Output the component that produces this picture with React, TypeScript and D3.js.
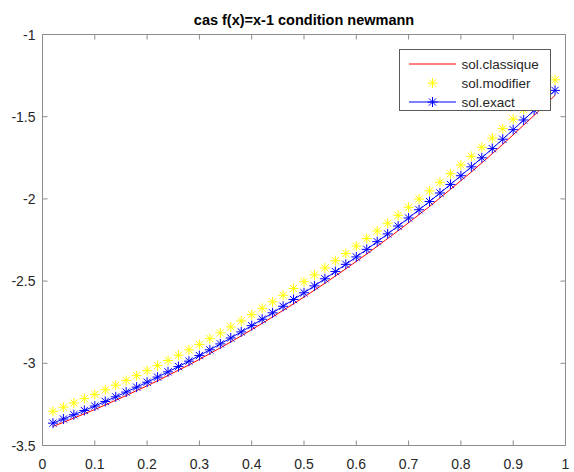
import React from "react";
import * as d3 from "d3";

const WIDTH = 574;
const HEIGHT = 472;
const MARGIN = { left: 42.5, right: 8.5, top: 34.5, bottom: 26.5 };

const xValues = [
  0.02, 0.04, 0.06, 0.08, 0.1, 0.12, 0.14, 0.16, 0.18, 0.2, 0.22, 0.24, 0.26, 0.28, 0.3, 0.32, 0.34,
  0.36, 0.38, 0.4, 0.42, 0.44, 0.46, 0.48, 0.5, 0.52, 0.54, 0.56, 0.58, 0.6, 0.62, 0.64, 0.66, 0.68,
  0.7, 0.72, 0.74, 0.76, 0.78, 0.8, 0.82, 0.84, 0.86, 0.88, 0.9, 0.92, 0.94, 0.96, 0.98,
];

// sol.classique (red line)
const solClassique = [
  -3.384, -3.359, -3.333, -3.307, -3.281, -3.253, -3.225, -3.196, -3.166, -3.137, -3.106, -3.074,
  -3.042, -3.01, -2.976, -2.941, -2.906, -2.87, -2.833, -2.795, -2.757, -2.718, -2.678, -2.638,
  -2.597, -2.555, -2.513, -2.469, -2.425, -2.38, -2.335, -2.288, -2.241, -2.194, -2.145, -2.095,
  -2.046, -1.994, -1.942, -1.889, -1.836, -1.781, -1.725, -1.668, -1.61, -1.551, -1.492, -1.432,
  -1.37,
];

// sol.modifier (yellow stars)
const solModifier = [
  -3.292, -3.267, -3.241, -3.215, -3.189, -3.161, -3.133, -3.104, -3.075, -3.045, -3.014, -2.983,
  -2.951, -2.918, -2.885, -2.85, -2.815, -2.779, -2.742, -2.704, -2.665, -2.626, -2.586, -2.545,
  -2.504, -2.462, -2.42, -2.376, -2.332, -2.287, -2.241, -2.195, -2.148, -2.1, -2.051, -2.001,
  -1.951, -1.899, -1.847, -1.794, -1.741, -1.686, -1.63, -1.573, -1.515, -1.456, -1.397, -1.337,
  -1.276,
];

// sol.exact (blue line + stars)
const solExact = [
  -3.364, -3.339, -3.313, -3.287, -3.26, -3.232, -3.204, -3.175, -3.145, -3.115, -3.084, -3.052,
  -3.02, -2.987, -2.953, -2.918, -2.882, -2.846, -2.809, -2.771, -2.732, -2.693, -2.653, -2.612,
  -2.571, -2.529, -2.486, -2.442, -2.398, -2.353, -2.307, -2.26, -2.213, -2.165, -2.116, -2.066,
  -2.016, -1.964, -1.912, -1.859, -1.805, -1.75, -1.694, -1.637, -1.579, -1.52, -1.461, -1.401,
  -1.34,
];

const xTicks = [0, 0.1, 0.2, 0.3, 0.4, 0.5, 0.6, 0.7, 0.8, 0.9, 1];
const yTicks = [-1, -1.5, -2, -2.5, -3, -3.5];
const legendLabels = ["sol.classique", "sol.modifier", "sol.exact"];

const FONT = "Liberation Sans, Arial, Helvetica, sans-serif";
const AXIS = "#8c8c8c";
const TEXT = "#262626";

// matlab style '*' marker
const Star = ({ x, y, color, r = 5 }: { x: number; y: number; color: string; r?: number }) => {
  const d = r * 0.72;
  return (
    <g stroke={color} strokeWidth={1}>
      <line x1={x - r} y1={y} x2={x + r} y2={y} />
      <line x1={x} y1={y - r} x2={x} y2={y + r} />
      <line x1={x - d} y1={y - d} x2={x + d} y2={y + d} />
      <line x1={x - d} y1={y + d} x2={x + d} y2={y - d} />
    </g>
  );
};

export default function App() {
  const x = d3.scaleLinear().domain([0, 1]).range([MARGIN.left, WIDTH - MARGIN.right]);
  const y = d3.scaleLinear().domain([-3.5, -1]).range([HEIGHT - MARGIN.bottom, MARGIN.top]);

  const line = d3
    .line<number>()
    .x((_, i) => x(xValues[i]))
    .y((d) => y(d));

  const [x0, x1] = x.range();
  const [y0, y1] = y.range();

  // legend box
  const lgX = 399.5;
  const lgY = 49.5;
  const lgW = 151;
  const lgH = 61;
  const rowY = [64, 83, 102];

  return (
    <svg
      width={WIDTH}
      height={HEIGHT}
      style={{ position: "absolute", left: 0, top: 0, background: "#fff" }}
      fontFamily={FONT}
    >
      <rect x={0} y={0} width={WIDTH} height={HEIGHT} fill="#fff" />

      {/* title */}
      <text
        x={(x0 + x1) / 2}
        y={25}
        textAnchor="middle"
        fontSize={14.5}
        fontWeight="bold"
        fill="#000"
      >
        cas f(x)=x-1 condition newmann
      </text>

      {/* data */}
      <path d={line(solClassique) ?? ""} fill="none" stroke="#ff0000" strokeWidth={1} />
      {solModifier.map((v, i) => (
        <Star key={"m" + i} x={x(xValues[i])} y={y(v)} color="#ffff00" />
      ))}
      <path d={line(solExact) ?? ""} fill="none" stroke="#0000ff" strokeWidth={1} />
      {solExact.map((v, i) => (
        <Star key={"e" + i} x={x(xValues[i])} y={y(v)} color="#0000ff" />
      ))}

      {/* box and ticks */}
      <rect x={x0} y={y1} width={x1 - x0} height={y0 - y1} fill="none" stroke={AXIS} strokeWidth={1} />
      {xTicks.map((t) => (
        <g key={"xt" + t}>
          <line x1={x(t)} x2={x(t)} y1={y0} y2={y0 - 5} stroke={AXIS} />
          <line x1={x(t)} x2={x(t)} y1={y1} y2={y1 + 5} stroke={AXIS} />
          <text x={x(t)} y={y0 + 23} textAnchor="middle" fontSize={14} fill={TEXT}>
            {String(t)}
          </text>
        </g>
      ))}
      {yTicks.map((t) => (
        <g key={"yt" + t}>
          <line x1={x0} x2={x0 + 5} y1={y(t)} y2={y(t)} stroke={AXIS} />
          <line x1={x1} x2={x1 - 5} y1={y(t)} y2={y(t)} stroke={AXIS} />
          <text x={x0 - 7} y={y(t) + 5} textAnchor="end" fontSize={14} fill={TEXT}>
            {String(t)}
          </text>
        </g>
      ))}

      {/* legend */}
      <rect x={lgX} y={lgY} width={lgW} height={lgH} fill="#fff" stroke="#5a5a5a" strokeWidth={1} />
      <line x1={409} x2={456} y1={rowY[0]} y2={rowY[0]} stroke="#ff0000" />
      <Star x={432.5} y={rowY[1]} color="#ffff00" />
      <line x1={409} x2={456} y1={rowY[2]} y2={rowY[2]} stroke="#0000ff" />
      <Star x={432.5} y={rowY[2]} color="#0000ff" />
      {legendLabels.map((l, i) => (
        <text key={l} x={461.5} y={rowY[i] + 4.5} fontSize={13.5} fill={TEXT}>
          {l}
        </text>
      ))}
    </svg>
  );
}
